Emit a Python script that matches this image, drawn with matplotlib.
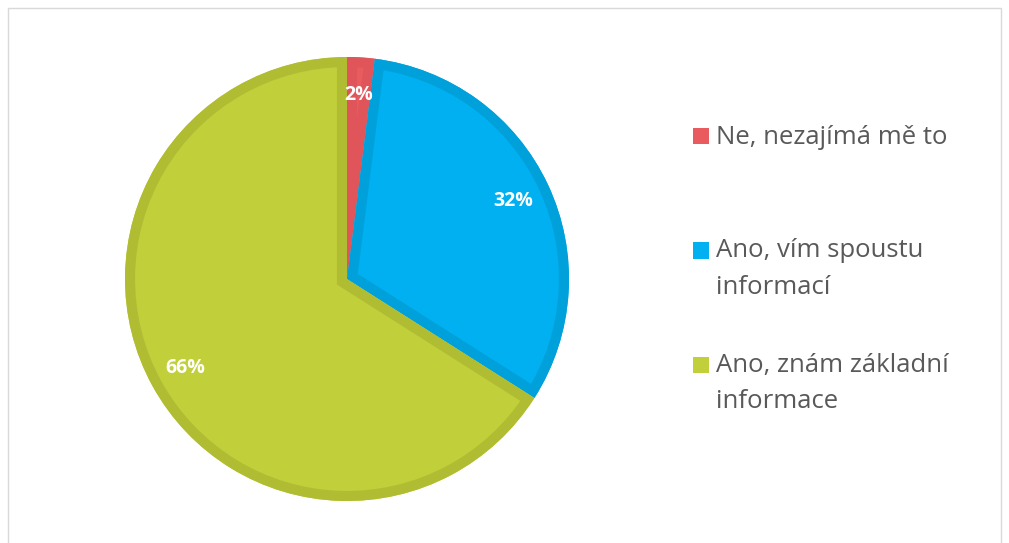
import matplotlib.pyplot as plt
from matplotlib.patches import Rectangle, Wedge

# data
labels = ["Ne, nezajímá mě to", "Ano, vím spoustu\ninformací", "Ano, znám základní\ninformace"]
values = [2, 32, 66]
fill_colors = ["#E95B5F", "#00B0F0", "#C1CF3A"]
edge_colors = ["#E0555A", "#00A1DA", "#B0BD32"]

W, H = 1009, 543
fig = plt.figure(figsize=(W / 100, H / 100), dpi=100)
plt.rcParams["font.family"] = ["Open Sans", "DejaVu Sans"]

# thin gray frame round the chart area
fig.patches.append(Rectangle((8 / W, -0.05), (1001 - 8) / W, (H - 8) / H + 0.05,
                             transform=fig.transFigure, fill=False,
                             edgecolor="#D9D9D9", linewidth=1.0))

# pie: center (347, 279) px, radius 222 px
cx, cy, r = 347, 279, 222
ax = fig.add_axes([(cx - r) / W, (H - cy - r) / H, 2 * r / W, 2 * r / H])
wedges, texts, autotexts = ax.pie(
    values, colors=fill_colors, startangle=90, counterclock=False,
    autopct="%d%%", pctdistance=0.83, radius=1.0,
    wedgeprops=dict(linewidth=0),
    textprops=dict(color="white", fontsize=14, fontweight="bold"),
)
ax.set_xlim(-1, 1)
ax.set_ylim(-1, 1)

# darker stroke drawn on the inside of each slice (clipped to the slice)
for w, ec in zip(wedges, edge_colors):
    stroke = Wedge(w.center, w.r, w.theta1, w.theta2, fill=False,
                   edgecolor=ec, linewidth=14.5, zorder=w.get_zorder() + 0.1)
    ax.add_patch(stroke)
    stroke.set_clip_path(w)
for t in autotexts:
    t.set_zorder(5)

# legend on the right, one slot per entry
line_step = 35
for i, (lab, col) in enumerate(zip(labels, fill_colors)):
    base = 144 + i * 114.5
    nlines = lab.count("\n") + 1
    fig.patches.append(Rectangle((693 / W, 1 - base / H), 16 / W, 16 / H,
                                 transform=fig.transFigure, color=col, linewidth=0))
    # baseline alignment refers to the last line of the text
    last_base = base + (nlines - 1) * line_step
    fig.text(716 / W, 1 - last_base / H, lab, fontsize=18.5, color="#595959",
             va="baseline", ha="left", linespacing=1.59)

fig.savefig("out.png", dpi=100)
